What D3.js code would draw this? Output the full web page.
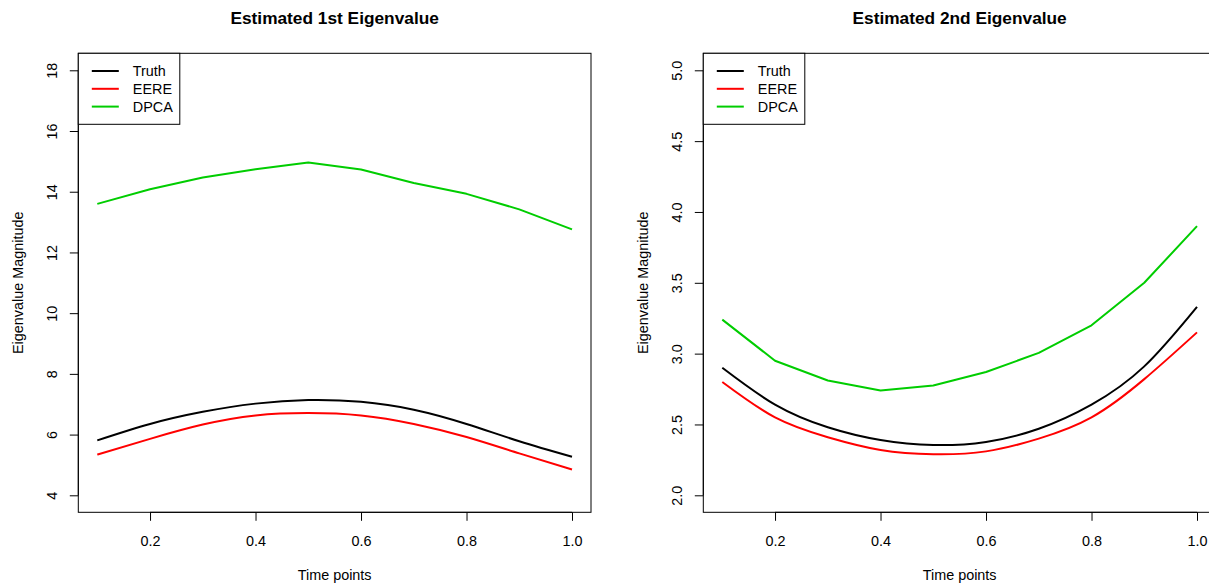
<!DOCTYPE html>
<html>
<head>
<meta charset="utf-8">
<script src="https://cdn.jsdelivr.net/npm/d3@7"></script>
<style>
  body { margin: 0; background: #fff; }
  svg { display: block; font-family: "Liberation Sans", Arial, sans-serif; }
</style>
</head>
<body>
<svg width="1209" height="583"></svg>
<script>
// values
var timePoints = [0.1, 0.2, 0.3, 0.4, 0.5, 0.6, 0.7, 0.8, 0.9, 1.0]
var truth1 = [5.81, 6.35, 6.75, 7.02, 7.14, 7.08, 6.82, 6.35, 5.78, 5.27]
var eere1  = [5.34, 5.86, 6.33, 6.63, 6.71, 6.63, 6.35, 5.92, 5.38, 4.85]
var dpca1  = [13.6, 14.08, 14.47, 14.74, 14.96, 14.73, 14.29, 13.93, 13.42, 12.76]
var truth2 = [2.90, 2.64, 2.48, 2.39, 2.355, 2.377, 2.47, 2.64, 2.91, 3.33]
var eere2  = [2.80, 2.55, 2.41, 2.32, 2.29, 2.31, 2.40, 2.55, 2.82, 3.15]
var dpca2  = [3.24, 2.95, 2.81, 2.74, 2.775, 2.87, 3.005, 3.20, 3.50, 3.90]

var xTicks = [0.2, 0.4, 0.6, 0.8, 1.0]
var yTicks1 = [4, 6, 8, 10, 12, 14, 16, 18]
var yTicks2 = [2.0, 2.5, 3.0, 3.5, 4.0, 4.5, 5.0]
var seriesNames = ["Truth", "EERE", "DPCA"]
var seriesColors = ["#000000", "#FF0000", "#00CD00"]

var svg = d3.select("svg")
var plotTop = 53.3, plotBottom = 512.3, plotW = 512.7

// R style: axis limits padded 4% on each side
function pad(lo, hi) { var e = (hi - lo) * 0.04; return [lo - e, hi + e] }

function panel(left, title, series, ylim, yTicks, yFmt){
    var right = left + plotW
    var x = d3.scaleLinear().domain(pad(0.1, 1.0)).range([left, right])
    var y = d3.scaleLinear().domain(pad(ylim[0], ylim[1])).range([plotBottom, plotTop])
    var g = svg.append("g")

    // lines
    series.forEach(function(s, i){
        var pts = timePoints.map((t, k) => [t, s[k]])
        var line = d3.line()
            .x(d => x(d[0]))
            .y(d => y(d[1]))
            .curve(i < 2 ? d3.curveNatural : d3.curveLinear)
        g.append("path")
            .attr("d", line(pts))
            .attr("fill", "none")
            .attr("stroke", seriesColors[i])
            .attr("stroke-width", 2)
            .attr("stroke-linejoin", "round")
    })

    // box
    g.append("rect")
        .attr("x", left).attr("y", plotTop)
        .attr("width", plotW).attr("height", plotBottom - plotTop)
        .attr("fill", "none").attr("stroke", "#000").attr("stroke-width", 1)

    // x axis
    var xa = g.append("g").attr("transform", `translate(0,${plotBottom})`)
        .call(d3.axisBottom(x).tickValues(xTicks).tickSize(8.5).tickFormat(d3.format(".1f")))
    xa.select(".domain").remove()
    xa.append("line").attr("x1", x(xTicks[0])).attr("x2", x(xTicks[xTicks.length - 1]))
        .attr("stroke", "#000")
    xa.selectAll(".tick text").attr("y", 34).attr("dy", 0)
        .attr("font-size", 14.4).attr("fill", "#000")
    xa.attr("font-family", null).attr("font-size", null)

    // y axis
    var ya = g.append("g").attr("transform", `translate(${left},0)`)
        .call(d3.axisLeft(y).tickValues(yTicks).tickSize(8.5).tickFormat(yFmt))
    ya.select(".domain").remove()
    ya.append("line").attr("y1", y(yTicks[0])).attr("y2", y(yTicks[yTicks.length - 1]))
        .attr("stroke", "#000")
    ya.selectAll(".tick text")
        .attr("x", 0).attr("y", -21).attr("dy", 0)
        .attr("transform", "rotate(-90)")
        .attr("text-anchor", "middle")
        .attr("font-size", 14.4).attr("fill", "#000")
    ya.attr("font-family", null).attr("font-size", null)

    // titles
    g.append("text")
        .attr("x", left + plotW / 2).attr("y", 24)
        .attr("text-anchor", "middle")
        .attr("font-size", 17.3).attr("font-weight", "bold")
        .text(title)
    g.append("text")
        .attr("x", left + plotW / 2).attr("y", 580)
        .attr("text-anchor", "middle")
        .attr("font-size", 14.4)
        .text("Time points")
    g.append("text")
        .attr("transform", `translate(${left - 55.8},${(plotTop + plotBottom) / 2}) rotate(-90)`)
        .attr("text-anchor", "middle")
        .attr("font-size", 14.4)
        .text("Eigenvalue Magnitude")

    // legend
    var lg = g.append("g").attr("transform", `translate(${left},${plotTop})`)
    lg.append("rect")
        .attr("width", 101.5).attr("height", 71)
        .attr("fill", "#fff").attr("stroke", "#000")
    seriesNames.forEach(function(n, i){
        var cy = 17.7 + i * 17.8
        lg.append("line").attr("x1", 13.5).attr("x2", 40.5)
            .attr("y1", cy).attr("y2", cy)
            .attr("stroke", seriesColors[i]).attr("stroke-width", 2)
        lg.append("text").attr("x", 54.5).attr("y", cy + 5.2)
            .attr("font-size", 14.4).text(n)
    })
}

panel(78.3, "Estimated 1st Eigenvalue", [truth1, eere1, dpca1], [4, 18], yTicks1, d3.format("d"))
panel(703.3, "Estimated 2nd Eigenvalue", [truth2, eere2, dpca2], [2, 5], yTicks2, d3.format(".1f"))
</script>
</body>
</html>
